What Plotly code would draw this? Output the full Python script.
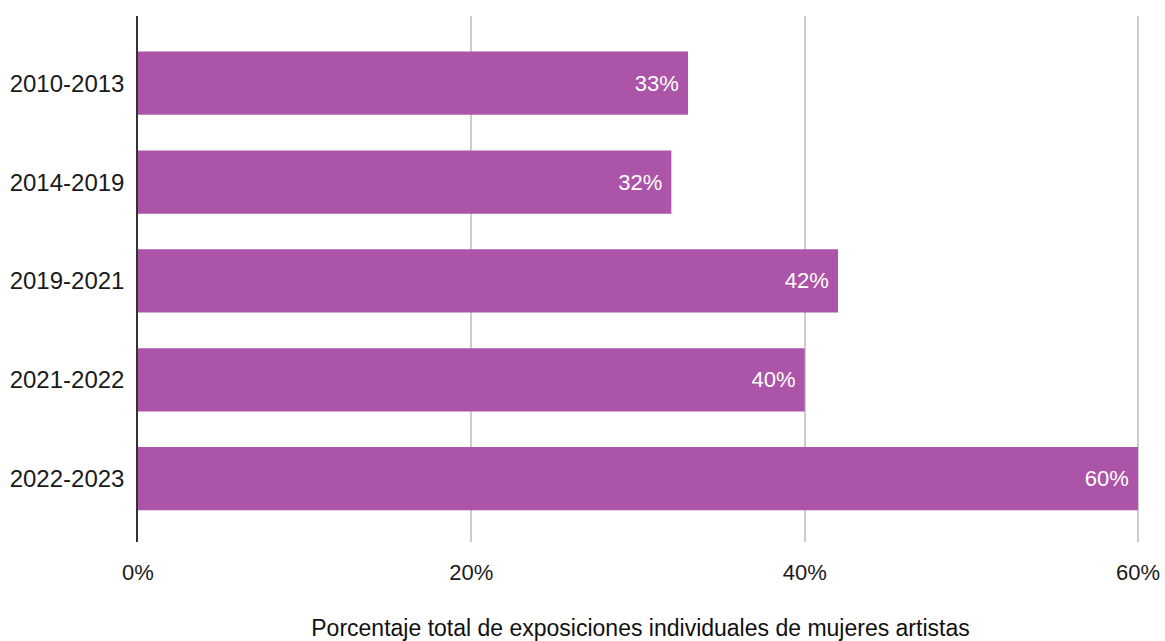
import plotly.graph_objects as go

periods = ["2010-2013", "2014-2019", "2019-2021", "2021-2022", "2022-2023"]
values = [33, 32, 42, 40, 60]
x_ticks = [0, 20, 40, 60]
x_ticklabels = ["0%", "20%", "40%", "60%"]
x_title = "Porcentaje total de exposiciones individuales de mujeres artistas"

fig = go.Figure(go.Bar(
    y=periods, x=values, orientation="h",
    marker=dict(color="#ab54a8", line=dict(width=0)),
    width=0.64,
    text=[f"{v}%\u00a0" for v in values],
    textposition="inside", insidetextanchor="end",
    textfont=dict(color="white", size=22, family="Liberation Sans, Arial"),
    cliponaxis=False,
))

fig.update_layout(
    width=1165, height=641,
    margin=dict(l=138, r=22, t=16, b=99),
    plot_bgcolor="white", paper_bgcolor="white",
    font=dict(family="Liberation Sans, Arial", size=22, color="#222222"),
    showlegend=False,
    xaxis=dict(
        range=[0, 60.3], tickvals=x_ticks, ticktext=x_ticklabels,
        showgrid=True, gridcolor="#cccccc", gridwidth=1.5,
        zeroline=False, showline=False, automargin=False,
        ticks="", ticklabelstandoff=15,
        tickfont=dict(size=22, color="#1a1a1a"),
        title=dict(text=x_title, standoff=41, font=dict(size=23, color="#111111")),
    ),
    yaxis=dict(
        categoryorder="array", categoryarray=periods,
        range=[4.64, -0.68], automargin=False,
        showgrid=False, zeroline=False,
        showline=True, linecolor="#333333", linewidth=1.5,
        ticks="", ticklabelstandoff=7,
        tickfont=dict(size=24, color="#1a1a1a"),
    ),
)

fig.write_html(
    "out.html",
    config={"displayModeBar": False},
    post_script="document.body.style.margin='0';document.body.style.overflow='hidden';",
)
